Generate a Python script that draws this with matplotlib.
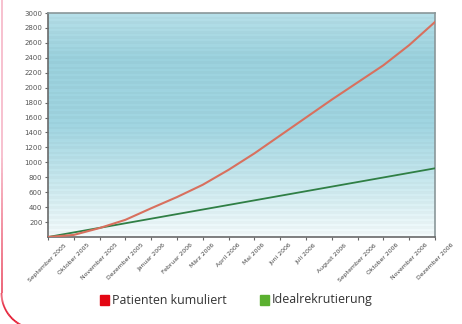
import matplotlib
matplotlib.use("Agg")
import matplotlib.pyplot as plt
import numpy as np
from matplotlib.colors import LinearSegmentedColormap, to_rgb
from matplotlib.collections import LineCollection
from matplotlib.patches import Rectangle

months = ["September 2005", "Oktober 2005", "November 2005", "Dezember 2005",
          "Januar 2006", "Februar 2006", "März 2006", "April 2006", "Mai 2006",
          "Juni 2006", "Juli 2006", "August 2006", "September 2006",
          "Oktober 2006", "November 2006", "Dezember 2006"]
patienten = [0, 28, 120, 230, 385, 535, 700, 900, 1120, 1360, 1600, 1840,
             2070, 2300, 2570, 2880]
ideal_x = [0, 15]
ideal = [0, 920]
yticks = list(range(200, 3001, 200))

W, H = 462, 324
fig = plt.figure(figsize=(W / 100, H / 100), dpi=100)
fig.patch.set_facecolor("white")

# pink card border (left edge + rounded lower-left corner, bottom cut off)
r = 36
x0, yc = 1.5, 293
t = np.linspace(np.pi, 0.62 * np.pi, 40)
arc_x = x0 + r + r * np.cos(t)
arc_y = yc - r * np.sin(t) * -1
px = np.concatenate([np.full(60, x0), arc_x])
py = np.concatenate([np.linspace(-2, yc, 60), arc_y])
pts = np.column_stack([px / W, 1 - py / H])
segs = np.stack([pts[:-1], pts[1:]], axis=1)
c0, c1 = np.array(to_rgb("#f7bccb")), np.array(to_rgb("#e2001a"))
frac = np.clip(np.linspace(-0.6, 1.3, len(segs)), 0, 1)[:, None]
lc = LineCollection(segs, colors=c0 * (1 - frac) + c1 * frac, linewidths=1.3,
                    transform=fig.transFigure)
fig.add_artist(lc)

ax = fig.add_axes([48 / W, 1 - 237 / H, (435 - 48) / W, (237 - 13) / H])

# background gradient with faint horizontal bands
cmap = LinearSegmentedColormap.from_list(
    "bg", [(0, "#f2f9fa"), (0.25, "#c6e6ec"), (0.5, "#9fd3df"),
           (0.8, "#9ad0dc"), (1, "#b4dde6")])
rows = np.linspace(0, 1, 224)
img = cmap(rows)[:, None, :3]
band = 1 + 0.012 * np.sign(np.sin(np.arange(224) * 2 * np.pi / 5))
img = np.clip(img * band[:, None, None], 0, 1)
ax.imshow(img, aspect="auto", extent=[0, 15, 0, 3000], origin="lower", zorder=0)

x = np.arange(len(months))
ax.plot(ideal_x, ideal, color="#2f7f45", lw=1.3, zorder=3)
ax.plot(x, patienten, color="#d8705e", lw=1.5, zorder=4)

ax.set_xlim(0, 15)
ax.set_ylim(0, 3000)
ax.set_yticks(yticks)
ax.set_yticklabels([str(v) for v in yticks], fontsize=5, color="#555555")
ax.set_xticks(x)
ax.set_xticklabels(months, rotation=45, ha="center", va="top", fontsize=4.4,
                   color="#444444")
ax.tick_params(axis="both", length=2, width=0.8, color="#666666", pad=2)
for s in ["left", "bottom"]:
    ax.spines[s].set_color("#6a6a6a")
    ax.spines[s].set_linewidth(1.2)
for s in ["top", "right"]:
    ax.spines[s].set_color("#8a9799")
    ax.spines[s].set_linewidth(1.2)

# legend
fig.add_artist(Rectangle((100 / W, 1 - 305 / H), 9 / W, 10 / H,
                         transform=fig.transFigure, color="#e30613"))
fig.text(112 / W, 1 - 300 / H, "Patienten kumuliert", fontsize=8.9,
         family="Open Sans", color="#333333", va="center", ha="left")
fig.add_artist(Rectangle((260 / W, 1 - 305 / H), 9 / W, 10 / H,
                         transform=fig.transFigure, color="#5bb030"))
fig.text(272 / W, 1 - 300 / H, "Idealrekrutierung", fontsize=8.9,
         family="Open Sans", color="#333333", va="center", ha="left")

fig.savefig("out.png", dpi=100)
